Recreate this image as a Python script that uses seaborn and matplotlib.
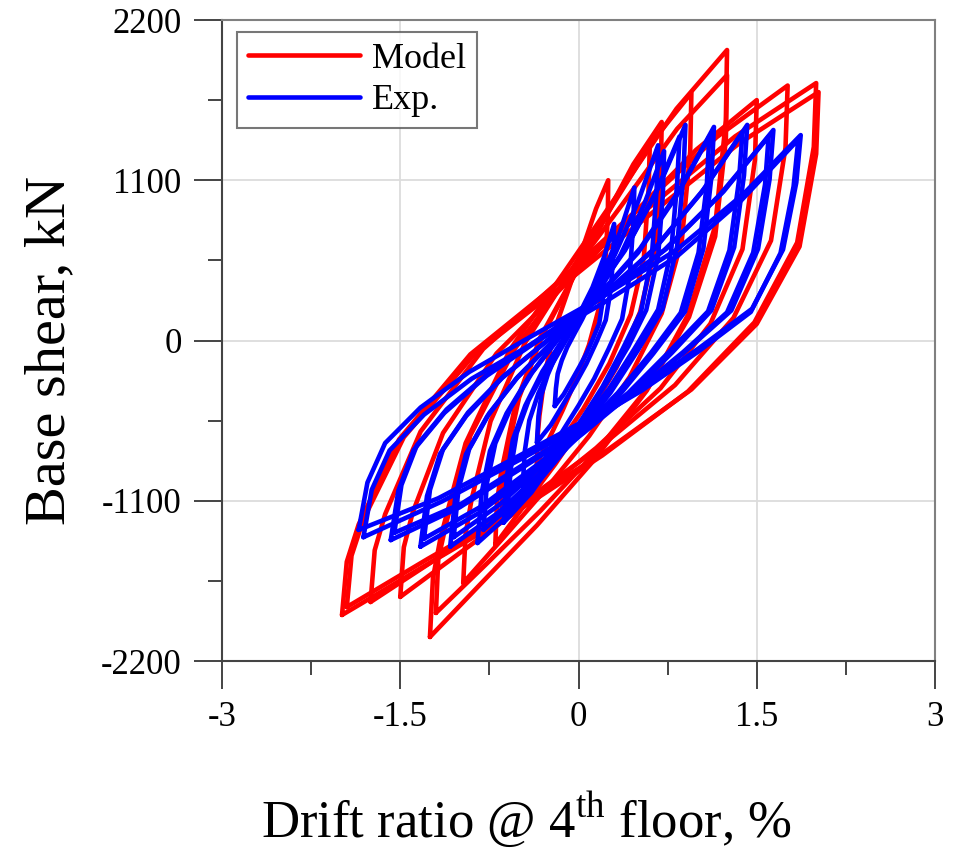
import matplotlib
matplotlib.use("Agg")
import matplotlib.pyplot as plt
import seaborn as sns
import pandas as pd
from matplotlib.ticker import AutoMinorLocator, FixedLocator, FixedFormatter
from matplotlib.lines import Line2D

# ---------------- data ----------------
# Each cycle: reloading branch from negative peak to positive peak, then
# unloading branch back to the negative peak.
model_drift = [
    [-0.35, -0.344, -0.329, -0.278, -0.188, -0.08, 0.034, 0.148, 0.25,
     0.247, 0.226, 0.172, 0.088, -0.02, -0.134, -0.248, -0.35],
    [-0.65, -0.64, -0.61, -0.50, -0.31, -0.09, 0.15, 0.39, 0.60,
     0.59, 0.55, 0.44, 0.26, 0.04, -0.20, -0.44, -0.65],
    [-0.70, -0.686, -0.651, -0.532, -0.322, -0.07, 0.196, 0.462, 0.70,
     0.693, 0.644, 0.518, 0.322, 0.07, -0.196, -0.462, -0.70],
    [-0.97, -0.95, -0.90, -0.74, -0.45, -0.11, 0.26, 0.62, 0.95,
     0.94, 0.87, 0.70, 0.43, 0.09, -0.28, -0.64, -0.97],
    [-1.25, -1.225, -1.16, -0.95, -0.575, -0.125, 0.35, 0.825, 1.25,
     1.24, 1.15, 0.925, 0.575, 0.125, -0.35, -0.825, -1.25],
    [-1.20, -1.18, -1.11, -0.91, -0.54, -0.10, 0.37, 0.83, 1.25,
     1.24, 1.15, 0.93, 0.59, 0.15, -0.32, -0.78, -1.20],
    [-1.50, -1.47, -1.395, -1.14, -0.69, -0.15, 0.42, 0.99, 1.50,
     1.485, 1.38, 1.11, 0.69, 0.15, -0.42, -0.99, -1.50],
    [-1.75, -1.715, -1.627, -1.329, -0.802, -0.17, 0.496, 1.163, 1.76,
     1.742, 1.62, 1.304, 0.812, 0.18, -0.486, -1.153, -1.75],
    [-1.99, -1.95, -1.85, -1.51, -0.91, -0.19, 0.56, 1.32, 2.00,
     1.98, 1.84, 1.48, 0.92, 0.20, -0.55, -1.31, -1.99],
    [-1.95, -1.91, -1.81, -1.47, -0.88, -0.16, 0.59, 1.35, 2.02,
     2.00, 1.86, 1.50, 0.95, 0.23, -0.52, -1.27, -1.95],
]
model_shear = [
    [-850, -655, -518, -206, 106, 359, 632, 905, 1100,
     866, 515, 222, -31, -265, -480, -675, -850],
    [-1250, -990, -808, -392, 24, 362, 726, 1090, 1350,
     1038, 570, 180, -158, -470, -756, -1016, -1250],
    [-1400, -1110, -907, -443, 21, 398, 804, 1210, 1500,
     1152, 630, 195, -182, -530, -849, -1139, -1400],
    [-1664, -1328, -1092, -554, -16, 422, 893, 1364, 1700,
     1296, 691, 186, -251, -655, -1025, -1361, -1664],
    [-2035, -1632, -1350, -705, -61, 463, 1027, 1591, 1994,
     1511, 785, 181, -343, -826, -1269, -1672, -2035],
    [-1870, -1501, -1242, -652, -61, 419, 936, 1453, 1822,
     1379, 714, 161, -319, -762, -1169, -1538, -1870],
    [-1760, -1419, -1180, -635, -89, 354, 832, 1309, 1650,
     1241, 627, 115, -328, -737, -1112, -1453, -1760],
    [-1795, -1440, -1192, -625, -58, 403, 899, 1396, 1750,
     1325, 686, 155, -306, -732, -1121, -1476, -1795],
    [-1884, -1519, -1263, -679, -95, 380, 891, 1402, 1767,
     1329, 672, 124, -351, -789, -1190, -1555, -1884],
    [-1830, -1477, -1228, -664, -98, 362, 857, 1352, 1705,
     1281, 645, 114, -336, -760, -1148, -1500, -1830],
]
exp_drift = [
    [-0.20, -0.19, -0.175, -0.141, -0.095, -0.036, 0.031, 0.102, 0.165, 0.22,
     0.216, 0.203, 0.174, 0.123, 0.069, 0.01, -0.053, -0.124, -0.20],
    [-0.35, -0.337, -0.311, -0.259, -0.188, -0.097, 0.008, 0.118, 0.216, 0.30,
     0.294, 0.274, 0.229, 0.151, 0.066, -0.025, -0.123, -0.233, -0.35],
    [-0.47, -0.451, -0.414, -0.338, -0.235, -0.103, 0.047, 0.207, 0.348, 0.47,
     0.461, 0.432, 0.367, 0.254, 0.132, 0.0, -0.141, -0.301, -0.47],
    [-0.63, -0.604, -0.552, -0.448, -0.305, -0.123, 0.085, 0.306, 0.501, 0.67,
     0.657, 0.618, 0.527, 0.371, 0.202, 0.02, -0.175, -0.396, -0.63],
    [-0.60, -0.57, -0.52, -0.42, -0.27, -0.09, 0.13, 0.35, 0.55, 0.72,
     0.71, 0.67, 0.57, 0.42, 0.24, 0.06, -0.14, -0.36, -0.60],
    [-0.85, -0.815, -0.745, -0.605, -0.4125, -0.1675, 0.1125, 0.41, 0.6725, 0.90,
     0.8825, 0.83, 0.7075, 0.4975, 0.27, 0.025, -0.2375, -0.535, -0.85],
    [-0.80, -0.77, -0.70, -0.57, -0.39, -0.16, 0.11, 0.39, 0.64, 0.85,
     0.83, 0.78, 0.67, 0.47, 0.26, 0.03, -0.22, -0.50, -0.80],
    [-1.08, -1.036, -0.947, -0.769, -0.525, -0.214, 0.141, 0.518, 0.851, 1.14,
     1.118, 1.051, 0.896, 0.629, 0.341, 0.03, -0.303, -0.680, -1.08],
    [-1.05, -1.01, -0.92, -0.75, -0.51, -0.21, 0.13, 0.50, 0.82, 1.10,
     1.08, 1.01, 0.86, 0.61, 0.33, 0.03, -0.30, -0.67, -1.05],
    [-1.33, -1.275, -1.165, -0.945, -0.6425, -0.2575, 0.1825, 0.65, 1.0625, 1.42,
     1.3925, 1.31, 1.1175, 0.7875, 0.43, 0.045, -0.3675, -0.835, -1.33],
    [-1.30, -1.25, -1.14, -0.93, -0.63, -0.25, 0.17, 0.63, 1.03, 1.38,
     1.35, 1.27, 1.09, 0.76, 0.42, 0.04, -0.36, -0.82, -1.30],
    [-1.58, -1.516, -1.387, -1.129, -0.775, -0.324, 0.191, 0.738, 1.221, 1.64,
     1.608, 1.511, 1.286, 0.899, 0.481, 0.03, -0.453, -1.000, -1.58],
    [-1.55, -1.49, -1.36, -1.11, -0.76, -0.32, 0.18, 0.72, 1.19, 1.60,
     1.57, 1.47, 1.25, 0.88, 0.47, 0.03, -0.45, -0.98, -1.55],
    [-1.85, -1.776, -1.627, -1.329, -0.92, -0.399, 0.196, 0.828, 1.386, 1.87,
     1.833, 1.721, 1.461, 1.014, 0.531, 0.01, -0.548, -1.180, -1.85],
    [-1.81, -1.74, -1.59, -1.30, -0.90, -0.38, 0.20, 0.83, 1.37, 1.85,
     1.81, 1.70, 1.45, 1.01, 0.53, 0.02, -0.53, -1.15, -1.81],
]
exp_shear = [
    [-450, -329, -228, -137, -46, 45, 146, 267, 409, 560,
     439, 267, 116, 15, -86, -177, -268, -369, -450],
    [-700, -520, -370, -235, -100, 35, 185, 365, 575, 800,
     620, 365, 140, -10, -160, -295, -430, -580, -700],
    [-1000, -754, -549, -364, -180, 5, 210, 456, 743, 1050,
     804, 455, 148, -57, -262, -447, -631, -836, -1000],
    [-1250, -939, -680, -447, -214, 19, 278, 589, 952, 1340,
     1029, 589, 200, -59, -318, -551, -784, -1043, -1250],
    [-1180, -882, -635, -411, -188, 35, 283, 581, 929, 1300,
     1002, 581, 209, -39, -287, -510, -734, -982, -1180],
    [-1390, -1046, -759, -500, -242, 16, 303, 648, 1050, 1480,
     1136, 648, 217, -70, -357, -615, -873, -1160, -1390],
    [-1300, -976, -706, -463, -220, 23, 293, 617, 995, 1400,
     1076, 617, 212, -58, -328, -571, -814, -1084, -1300],
    [-1415, -1069, -781, -522, -263, -3, 285, 631, 1034, 1466,
     1120, 631, 198, -90, -378, -637, -896, -1185, -1415],
    [-1350, -1020, -745, -498, -250, -3, 272, 602, 986, 1400,
     1070, 603, 190, -85, -360, -608, -855, -1130, -1350],
    [-1415, -1068, -778, -518, -257, 4, 293, 640, 1046, 1480,
     1133, 640, 206, -83, -373, -633, -894, -1183, -1415],
    [-1360, -1025, -746, -495, -244, 7, 286, 621, 1011, 1430,
     1095, 619, 200, -80, -359, -610, -861, -1140, -1360],
    [-1370, -1032, -751, -497, -244, 9, 291, 629, 1023, 1445,
     1107, 629, 206, -75, -357, -610, -863, -1145, -1370],
    [-1320, -992, -719, -473, -228, 18, 291, 619, 1001, 1400,
     1072, 603, 193, -80, -353, -599, -845, -1118, -1320],
    [-1300, -975, -704, -460, -216, 28, 299, 624, 1004, 1410,
     1085, 624, 218, -53, -324, -568, -812, -1083, -1300],
    [-1350, -1025, -755, -509, -263, -18, 253, 578, 962, 1380,
     1058, 600, 196, -75, -345, -590, -834, -1105, -1350],
]
series_names = ["Model", "Exp."]
series_colors = ["#ff0000", "#0000ff"]
x_ticks = [-3, -1.5, 0, 1.5, 3]
x_tick_labels = ["-3", "-1.5", "0", "1.5", "3"]
y_ticks = [-2200, -1100, 0, 1100, 2200]
y_tick_labels = ["-2200", "-1100", "0", "1100", "2200"]

# ---------------- long-format table ----------------
rows = []
for name, drifts, shears in [("Model", model_drift, model_shear),
                             ("Exp.", exp_drift, exp_shear)]:
    for ci, (dx, dy) in enumerate(zip(drifts, shears)):
        for k, (xv, yv) in enumerate(zip(dx, dy)):
            rows.append({"series": name, "cycle": f"{name}-{ci}",
                         "order": k, "drift": xv, "shear": yv})
df = pd.DataFrame(rows)

# ---------------- figure ----------------
sns.set_theme(style="white")
plt.rcParams["font.family"] = ["Liberation Serif", "DejaVu Serif"]
plt.rcParams["mathtext.fontset"] = "custom"
plt.rcParams["mathtext.rm"] = "Liberation Serif"
plt.rcParams["text.color"] = "black"
plt.rcParams["axes.labelcolor"] = "black"

fig = plt.figure(figsize=(9.64, 8.51), dpi=100)
ax = fig.add_axes([222 / 964, 1 - 661 / 851, 713 / 964, 641 / 851])

sns.lineplot(data=df, x="drift", y="shear", hue="series", units="cycle",
             estimator=None, sort=False, hue_order=series_names,
             palette=dict(zip(series_names, series_colors)),
             linewidth=3.3, legend=False, ax=ax, zorder=3)

ax.set_xlim(-3, 3)
ax.set_ylim(-2200, 2200)
ax.xaxis.set_major_locator(FixedLocator(x_ticks))
ax.xaxis.set_major_formatter(FixedFormatter(x_tick_labels))
ax.yaxis.set_major_locator(FixedLocator(y_ticks))
ax.yaxis.set_major_formatter(FixedFormatter(y_tick_labels))
ax.xaxis.set_minor_locator(AutoMinorLocator(2))
ax.yaxis.set_minor_locator(AutoMinorLocator(2))
ax.tick_params(which="major", direction="out", length=20, width=1.4,
               color="#444444", labelsize=25, labelcolor="black", pad=9,
               bottom=True, left=True, top=False, right=False)
ax.tick_params(which="minor", direction="out", length=10, width=1.4,
               color="#444444", bottom=True, left=True, top=False, right=False)
ax.grid(True, which="major", color="#dcdcdc", linewidth=1.3, zorder=0)
for side, sp in ax.spines.items():
    sp.set_visible(True)
    sp.set_linewidth(1.5)
    sp.set_color("#444444" if side in ("left", "bottom") else "#808080")

ax.set_xlabel(r"Drift ratio @ 4$^{\mathrm{th}}$ floor, %", fontsize=38,
              color="black")
ax.set_ylabel("Base shear, kN", fontsize=42, color="black")
ax.xaxis.set_label_coords((526 - 222) / 713, -0.2)
ax.yaxis.set_label_coords(-0.205, (661 - 350) / 641)

handles = [Line2D([], [], color=c, linewidth=3.3) for c in series_colors]
leg = ax.legend(handles, series_names, loc="upper left",
                bbox_to_anchor=((237 - 222) / 713, (661 - 32) / 641),
                borderaxespad=0, frameon=True, fancybox=False,
                edgecolor="#555555", fontsize=26, handlelength=3.1,
                handletextpad=0.35, labelspacing=0.22, borderpad=0.3)
leg.get_frame().set_linewidth(1.5)
for t in leg.get_texts():
    t.set_color("black")

fig.savefig("out.png", dpi=100)
